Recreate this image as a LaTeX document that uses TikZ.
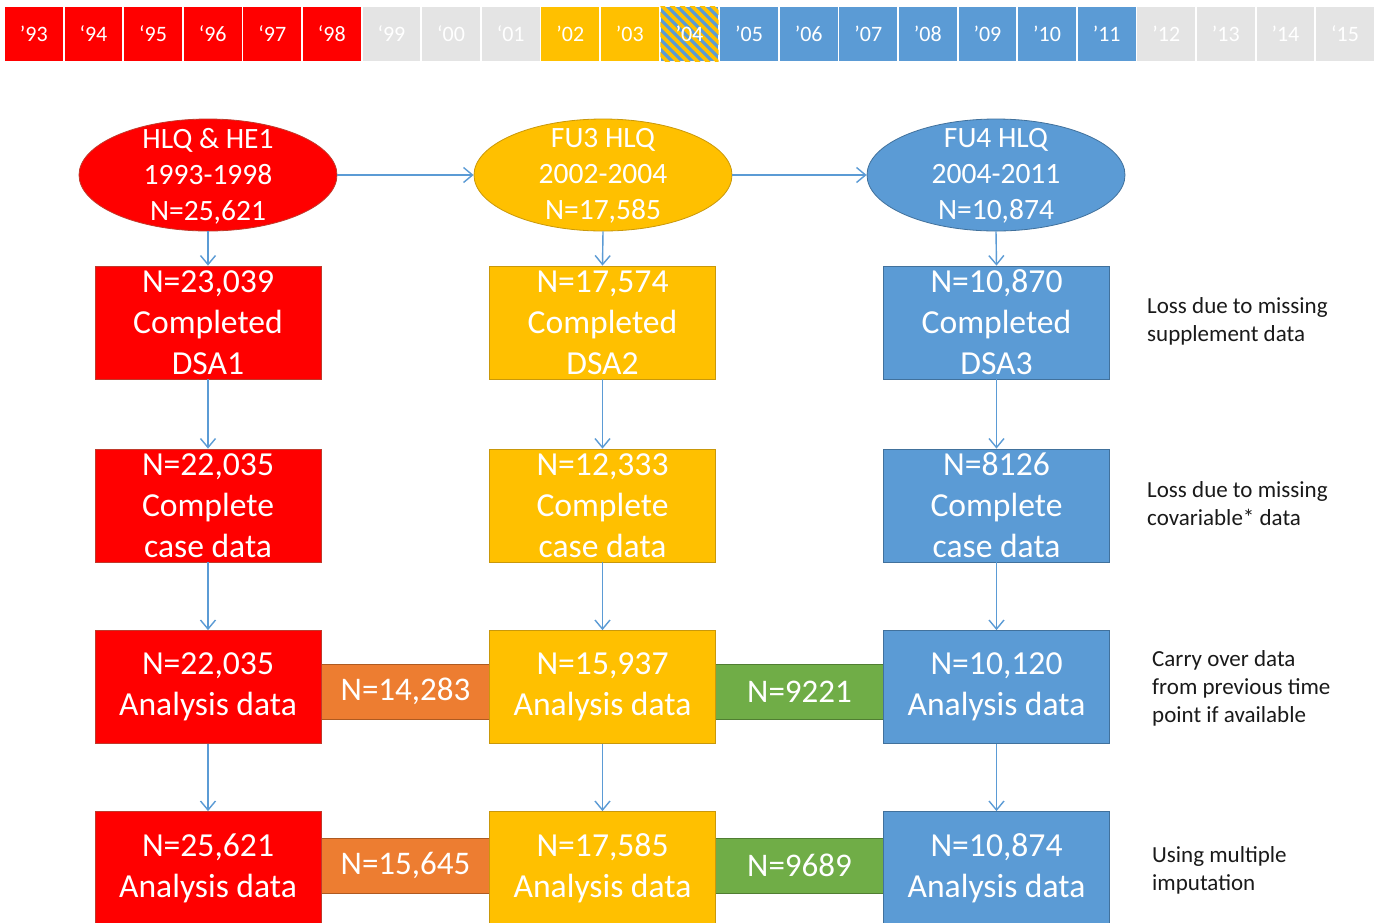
\documentclass[tikz,border=0pt]{standalone}
\usepackage{fontspec}
\setmainfont{Carlito}
\usetikzlibrary{shapes.geometric,arrows.meta,calc}
\definecolor{cred}{HTML}{FF0000}
\definecolor{credd}{HTML}{C0392B}
\definecolor{cyel}{HTML}{FFC000}
\definecolor{cyeld}{HTML}{C9980A}
\definecolor{cblue}{HTML}{5B9BD5}
\definecolor{cblued}{HTML}{41719C}
\definecolor{corange}{HTML}{ED7D31}
\definecolor{coranged}{HTML}{AE5A21}
\definecolor{cgreen}{HTML}{70AD47}
\definecolor{cgreend}{HTML}{507E32}
\definecolor{cgrey}{HTML}{E4E4E4}
\definecolor{ctxt}{HTML}{1A1A1A}
\tikzset{
  cell/.style={minimum width=57.7pt, minimum height=54.3pt, inner sep=0pt, text=white,
    font=\fontsize{22}{26}\selectfont},
  ell/.style={ellipse, minimum width=258pt, minimum height=112pt, inner sep=0pt, line width=0.8pt},
  elltext/.style={align=center, text=white, inner sep=0pt, font=\fontsize{29.5}{36}\selectfont},
  bigbox/.style={minimum width=226pt, minimum height=113pt, inner sep=0pt, align=center,
    text=white, line width=0.8pt, font=\fontsize{33.6}{41}\selectfont},
  linkbox/.style={minimum width=169pt, minimum height=55pt, inner sep=0pt, align=center,
    text=white, line width=0.8pt, font=\fontsize{33}{40}\selectfont},
  note/.style={align=left, anchor=west, inner sep=0pt, text=ctxt,
    font=\fontsize{23}{28}\selectfont},
  arr/.style={draw=cblue, line width=1.4pt, -{Straight Barb[length=9pt,width=15pt,line width=1.4pt]}}
}
\begin{document}
\begin{tikzpicture}[x=1pt,y=-1pt]
\clip (0,0) rectangle (1383,922);
\fill[white] (0,0) rectangle (1383,922);
% timeline
\foreach \lab/\col [count=\i from 0] in {’93/cred,‘94/cred,‘95/cred,‘96/cred,‘97/cred,‘98/cred,‘99/cgrey,‘00/cgrey,‘01/cgrey,’02/cyel,’03/cyel,’04/cblue,’05/cblue,’06/cblue,’07/cblue,’08/cblue,’09/cblue,’10/cblue,’11/cblue,’12/cgrey,’13/cgrey,’14/cgrey,‘15/cgrey}
  \node[cell, fill=\col] (y\i) at ({5+59.6*\i+28.85},33.8) {\lab};
\begin{scope}
  \clip (y11.north west) rectangle (y11.south east);
  \foreach \k in {-8,...,7}
    \draw[cyel, line width=3.6pt] ($(y11.north west)+(\k*10,-2)$) -- ++(64,64);
\end{scope}
\node[cell] (y11t) at (y11) {’04};
% ellipses
\node[ell, fill=cred, draw=credd] (e1) at (208,175) {};
\node[ell, fill=cyel, draw=cyeld] (e2) at (603,175) {};
\node[ell, fill=cblue, draw=cblued] (e3) at (996,175) {};
\node[elltext] (e1t) at (208,176) {HLQ \& HE1\\1993-1998\\N=25,621};
\node[elltext] (e2t) at (603,176) {FU3 HLQ\\2002-2004\\N=17,585};
\node[elltext] (e3t) at (996,176) {FU4 HLQ\\2004-2011\\N=10,874};
% link boxes
\node[linkbox, fill=corange, draw=coranged] (o1) at (405.5,691.5) {N=14,283};
\node[linkbox, fill=cgreen, draw=cgreend] (g1) at (799.5,692) {N=9221};
\node[linkbox, fill=corange, draw=coranged] (o2) at (405.5,865.5) {N=15,645};
\node[linkbox, fill=cgreen, draw=cgreend] (g2) at (799.5,865.5) {N=9689};
% boxes
\node[bigbox, fill=cred, draw=credd] (a1) at (208,322.5) {N=23,039\\Completed\\DSA1};
\node[bigbox, fill=cyel, draw=cyeld] (b1) at (602.5,322.5) {N=17,574\\Completed\\DSA2};
\node[bigbox, fill=cblue, draw=cblued] (c1) at (996.5,322.5) {N=10,870\\Completed\\DSA3};
\node[bigbox, fill=cred, draw=credd] (a2) at (208,505.5) {N=22,035\\Complete\\case data};
\node[bigbox, fill=cyel, draw=cyeld] (b2) at (602.5,505.5) {N=12,333\\Complete\\case data};
\node[bigbox, fill=cblue, draw=cblued] (c2) at (996.5,505.5) {N=8126\\Complete\\case data};
\node[bigbox, fill=cred, draw=credd] (a3) at (208,687) {N=22,035\\Analysis data};
\node[bigbox, fill=cyel, draw=cyeld] (b3) at (602.5,687) {N=15,937\\Analysis data};
\node[bigbox, fill=cblue, draw=cblued] (c3) at (996.5,687) {N=10,120\\Analysis data};
\node[bigbox, fill=cred, draw=credd] (a4) at (208,868) {N=25,621\\Analysis data};
\node[bigbox, fill=cyel, draw=cyeld] (b4) at (602.5,868) {N=17,585\\Analysis data};
\node[bigbox, fill=cblue, draw=cblued] (c4) at (996.5,868) {N=10,874\\Analysis data};
% arrows
\draw[arr] (e1) -- (e2);
\draw[arr] (e2) -- (e3);
\draw[arr] (e1.south) -- (a1.north);
\draw[arr] (e2.south) -- (b1.north);
\draw[arr] (e3.south) -- (c1.north);
\draw[arr] (a1) -- (a2);
\draw[arr] (b1) -- (b2);
\draw[arr] (c1) -- (c2);
\draw[arr] (a2) -- (a3);
\draw[arr] (b2) -- (b3);
\draw[arr] (c2) -- (c3);
\draw[arr] (a3) -- (a4);
\draw[arr] (b3) -- (b4);
\draw[arr] (c3) -- (c4);
% notes
\node[note] (n1) at (1147,321) {Loss due to missing\\supplement data};
\node[note] (n2) at (1147,504) {Loss due to missing\\covariable* data};
\node[note] (n3) at (1152,688) {Carry over data\\from previous time\\point if available};
\node[note] (n4) at (1152,870) {Using multiple\\imputation};
\end{tikzpicture}
\end{document}
